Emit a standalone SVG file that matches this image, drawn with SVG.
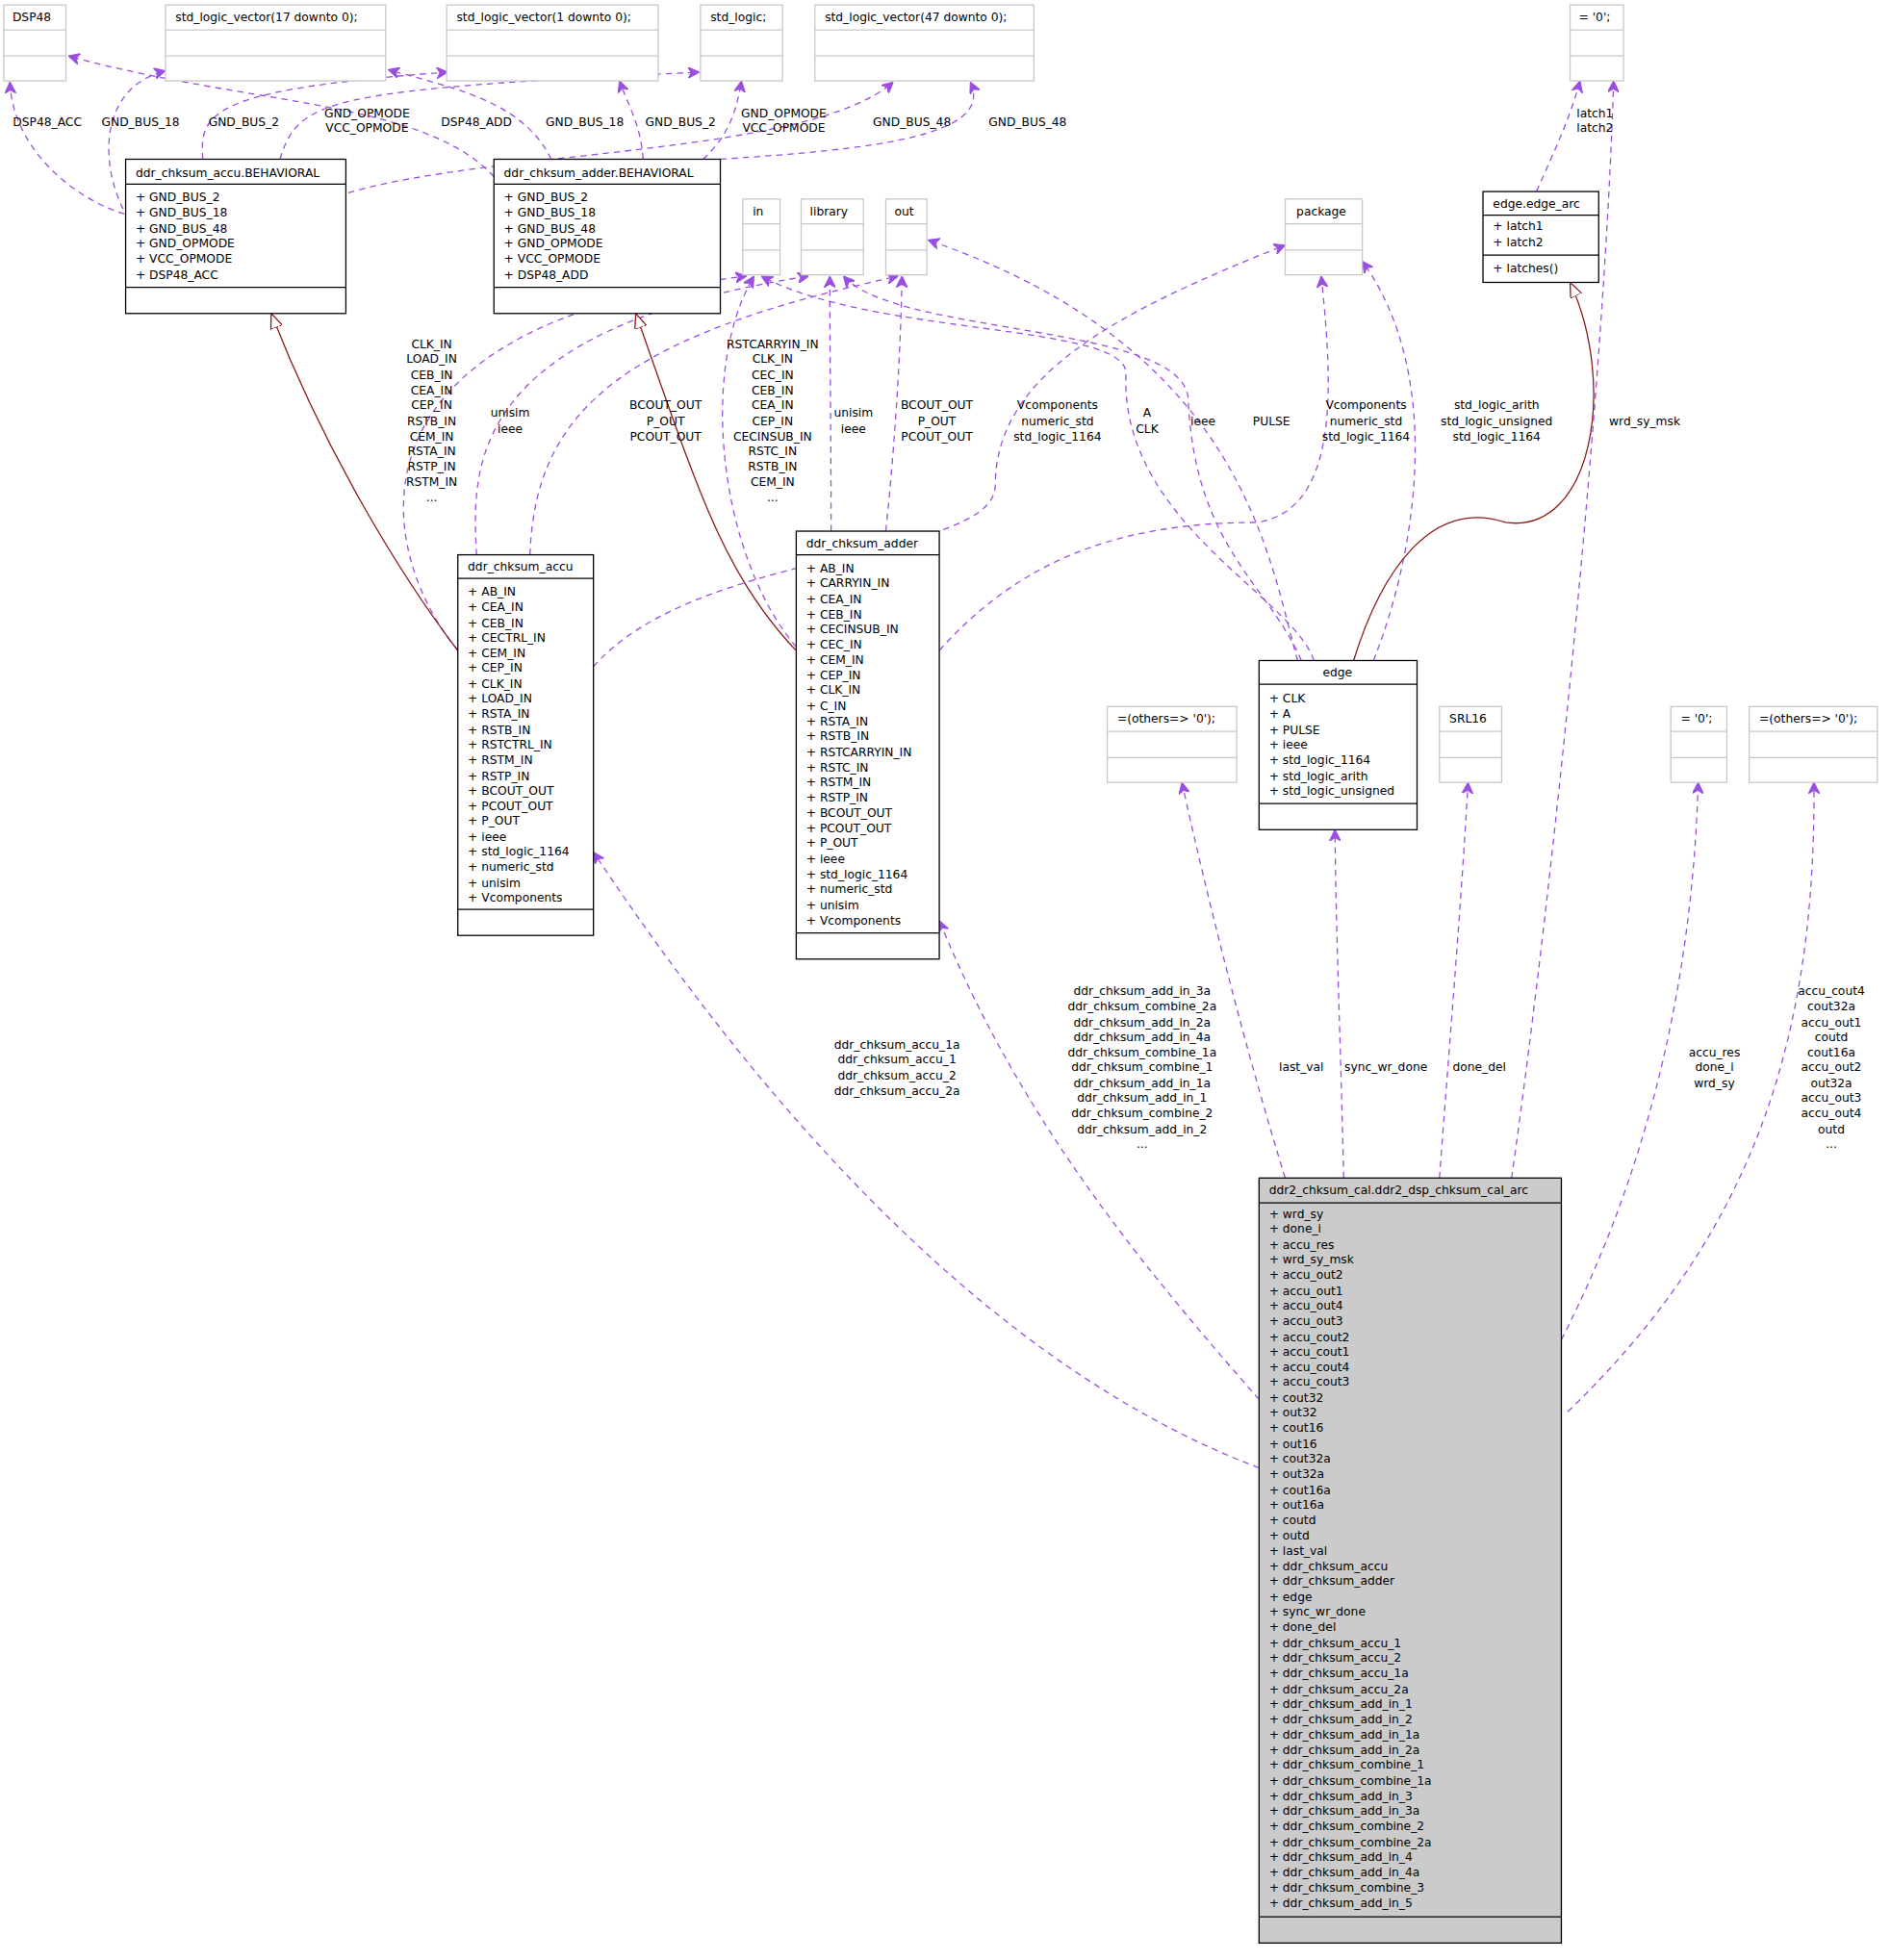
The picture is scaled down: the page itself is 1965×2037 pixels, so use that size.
<svg xmlns="http://www.w3.org/2000/svg" width="1965" height="2037" viewBox="0 0 1965 2037">
<defs>
<style>
text{font-family:"DejaVu Sans","Liberation Sans",sans-serif;font-size:9.5px;fill:#000}
.g rect{fill:#fff;stroke:#c8c8c8;stroke-width:1}
.g line{stroke:#c8c8c8;stroke-width:1}
.b rect{fill:#fff;stroke:#000;stroke-width:1}
.b line{stroke:#000;stroke-width:1}
.e path{fill:none;stroke:#9a4fe0;stroke-width:1;stroke-dasharray:5,4;marker-end:url(#a)}
.e path.r{stroke:#8b1a1a;stroke-dasharray:none;marker-end:url(#t)}
.l text{text-anchor:middle}
</style>
<marker id="a" viewBox="0 0 10 10" refX="10" refY="5" markerWidth="9" markerHeight="9" orient="auto" markerUnits="userSpaceOnUse"><path d="M0,0 L10,5 L0,10 L3,5 z" fill="#9a4fe0" stroke="#9a4fe0"/></marker>
<marker id="t" viewBox="0 0 12 10" refX="12" refY="5" markerWidth="12" markerHeight="10" orient="auto" markerUnits="userSpaceOnUse"><path d="M0,0 L12,5 L0,10 z" fill="#fff" stroke="#8b1a1a"/></marker>
</defs>
<rect width="1965" height="2037" fill="#fff"/>
<g transform="scale(1.2928)">
<g id="connectors" class="e">
<path d="M100,172 C60,160 10,120 8,66"/>
<path d="M99,168 C80,130 80,70 133,57"/>
<path d="M163,128 C160,90 170,72 360,58"/>
<path d="M225,128 C240,80 260,72 562,58"/>
<path d="M280,155 C400,120 650,125 718,66"/>
<path d="M397,142 C340,80 200,85 55,45"/>
<path d="M443,128 C420,80 360,70 312,56"/>
<path d="M517,128 C515,100 505,85 498,65"/>
<path d="M565,128 C585,110 592,90 596,65"/>
<path d="M579,128 C700,120 800,110 780,66"/>
<path d="M1235,154 C1250,120 1262,95 1270,65"/>
<path d="M1215,947 C1250,700 1290,300 1297,65"/>
<path d="M368,523 C300,440 270,260 600,222"/>
<path d="M383,446 C380,380 370,265 650,222"/>
<path d="M426,446 C430,330 500,270 722,222"/>
<path d="M477,536 C560,440 800,450 800,390 C800,300 900,250 1033,197"/>
<path d="M640,520 C580,450 560,300 606,222"/>
<path d="M668,427 C668,350 667,280 667,222"/>
<path d="M712,427 C720,350 724,280 725,222"/>
<path d="M755,523 C820,450 900,420 1010,420 C1080,410 1070,300 1062,222"/>
<path d="M1056,531 C1040,480 900,420 905,300 C905,260 700,270 612,222"/>
<path d="M1046,531 C1020,470 960,440 955,320 C950,260 720,270 678,222"/>
<path d="M1043,531 C1020,450 1000,280 746,193"/>
<path d="M1104,531 C1140,440 1160,300 1095,210"/>
<path class="r" d="M1088,531 C1110,460 1150,400 1210,420 C1280,430 1300,310 1262,227"/>
<path class="r" d="M368,523 C320,460 260,360 218,252"/>
<path class="r" d="M640,523 C580,460 560,390 511,252"/>
<path d="M1012,1180 C800,1100 620,900 477,685"/>
<path d="M1012,1125 C920,1020 820,900 755,740"/>
<path d="M1033,947 C1000,840 970,720 950,629"/>
<path d="M1080,947 C1078,850 1074,760 1073,667"/>
<path d="M1157,947 C1165,840 1175,720 1180,629"/>
<path d="M1255,1077 C1320,950 1360,800 1365,629"/>
<path d="M1260,1135 C1400,1000 1460,850 1458,629"/>
</g>
<g class="l">
<text x="38" y="101">DSP48_ACC</text>
<text x="113" y="101">GND_BUS_18</text>
<text x="196" y="101">GND_BUS_2</text>
<text x="295" y="94">GND_OPMODE</text><text x="295" y="106">VCC_OPMODE</text>
<text x="383" y="101">DSP48_ADD</text>
<text x="470" y="101">GND_BUS_18</text>
<text x="547" y="101">GND_BUS_2</text>
<text x="630" y="94">GND_OPMODE</text><text x="630" y="106">VCC_OPMODE</text>
<text x="733" y="101">GND_BUS_48</text>
<text x="826" y="101">GND_BUS_48</text>
<text x="1282" y="94">latch1</text><text x="1282" y="106">latch2</text>
<text x="347" y="280">CLK_IN</text><text x="347" y="292">LOAD_IN</text><text x="347" y="305">CEB_IN</text><text x="347" y="317">CEA_IN</text><text x="347" y="329">CEP_IN</text><text x="347" y="342">RSTB_IN</text><text x="347" y="354">CEM_IN</text><text x="347" y="366">RSTA_IN</text><text x="347" y="378">RSTP_IN</text><text x="347" y="391">RSTM_IN</text><text x="347" y="403">...</text>
<text x="621" y="280">RSTCARRYIN_IN</text><text x="621" y="292">CLK_IN</text><text x="621" y="305">CEC_IN</text><text x="621" y="317">CEB_IN</text><text x="621" y="329">CEA_IN</text><text x="621" y="342">CEP_IN</text><text x="621" y="354">CECINSUB_IN</text><text x="621" y="366">RSTC_IN</text><text x="621" y="378">RSTB_IN</text><text x="621" y="391">CEM_IN</text><text x="621" y="403">...</text>
<text x="410" y="335">unisim</text><text x="410" y="348">ieee</text>
<text x="686" y="335">unisim</text><text x="686" y="348">ieee</text>
<text x="535" y="329">BCOUT_OUT</text><text x="535" y="342">P_OUT</text><text x="535" y="354">PCOUT_OUT</text>
<text x="753" y="329">BCOUT_OUT</text><text x="753" y="342">P_OUT</text><text x="753" y="354">PCOUT_OUT</text>
<text x="850" y="329">Vcomponents</text><text x="850" y="342">numeric_std</text><text x="850" y="354">std_logic_1164</text>
<text x="1098" y="329">Vcomponents</text><text x="1098" y="342">numeric_std</text><text x="1098" y="354">std_logic_1164</text>
<text x="922" y="335">A</text><text x="922" y="348">CLK</text>
<text x="967" y="342">ieee</text>
<text x="1022" y="342">PULSE</text>
<text x="1203" y="329">std_logic_arith</text><text x="1203" y="342">std_logic_unsigned</text><text x="1203" y="354">std_logic_1164</text>
<text x="1322" y="342">wrd_sy_msk</text>
<text x="721" y="843">ddr_chksum_accu_1a</text><text x="721" y="855">ddr_chksum_accu_1</text><text x="721" y="868">ddr_chksum_accu_2</text><text x="721" y="880">ddr_chksum_accu_2a</text>
<text x="918" y="800">ddr_chksum_add_in_3a</text><text x="918" y="812">ddr_chksum_combine_2a</text><text x="918" y="825">ddr_chksum_add_in_2a</text><text x="918" y="837">ddr_chksum_add_in_4a</text><text x="918" y="849">ddr_chksum_combine_1a</text><text x="918" y="861">ddr_chksum_combine_1</text><text x="918" y="874">ddr_chksum_add_in_1a</text><text x="918" y="886">ddr_chksum_add_in_1</text><text x="918" y="898">ddr_chksum_combine_2</text><text x="918" y="911">ddr_chksum_add_in_2</text><text x="918" y="923">...</text>
<text x="1046" y="861">last_val</text>
<text x="1114" y="861">sync_wr_done</text>
<text x="1189" y="861">done_del</text>
<text x="1378" y="849">accu_res</text><text x="1378" y="861">done_i</text><text x="1378" y="874">wrd_sy</text>
<text x="1472" y="800">accu_cout4</text><text x="1472" y="812">cout32a</text><text x="1472" y="825">accu_out1</text><text x="1472" y="837">coutd</text><text x="1472" y="849">cout16a</text><text x="1472" y="861">accu_out2</text><text x="1472" y="874">out32a</text><text x="1472" y="886">accu_out3</text><text x="1472" y="898">accu_out4</text><text x="1472" y="911">outd</text><text x="1472" y="923">...</text>
</g>
<g id="n_dsp48" class="g"><rect x="3" y="4" width="50" height="61"/><line x1="3" y1="24" x2="53" y2="24"/><line x1="3" y1="45" x2="53" y2="45"/><text x="10" y="17">DSP48</text></g>
<g id="n_slv17" class="g"><rect x="133" y="4" width="177" height="61"/><line x1="133" y1="24" x2="310" y2="24"/><line x1="133" y1="45" x2="310" y2="45"/><text x="141" y="17">std_logic_vector(17 downto 0);</text></g>
<g id="n_slv1" class="g"><rect x="359" y="4" width="170" height="61"/><line x1="359" y1="24" x2="529" y2="24"/><line x1="359" y1="45" x2="529" y2="45"/><text x="367" y="17">std_logic_vector(1 downto 0);</text></g>
<g id="n_sl" class="g"><rect x="563" y="4" width="66" height="61"/><line x1="563" y1="24" x2="629" y2="24"/><line x1="563" y1="45" x2="629" y2="45"/><text x="571" y="17">std_logic;</text></g>
<g id="n_slv47" class="g"><rect x="655" y="4" width="176" height="61"/><line x1="655" y1="24" x2="831" y2="24"/><line x1="655" y1="45" x2="831" y2="45"/><text x="663" y="17">std_logic_vector(47 downto 0);</text></g>
<g id="n_zero1" class="g"><rect x="1262" y="4" width="43" height="61"/><line x1="1262" y1="24" x2="1305" y2="24"/><line x1="1262" y1="45" x2="1305" y2="45"/><text x="1269" y="17">= '0';</text></g>
<g id="n_in" class="g"><rect x="597" y="160" width="30" height="61"/><line x1="597" y1="180" x2="627" y2="180"/><line x1="597" y1="201" x2="627" y2="201"/><text x="605" y="173">in</text></g>
<g id="n_library" class="g"><rect x="644" y="160" width="50" height="61"/><line x1="644" y1="180" x2="694" y2="180"/><line x1="644" y1="201" x2="694" y2="201"/><text x="651" y="173">library</text></g>
<g id="n_out" class="g"><rect x="712" y="160" width="33" height="61"/><line x1="712" y1="180" x2="745" y2="180"/><line x1="712" y1="201" x2="745" y2="201"/><text x="719" y="173">out</text></g>
<g id="n_package" class="g"><rect x="1033" y="160" width="62" height="61"/><line x1="1033" y1="180" x2="1095" y2="180"/><line x1="1033" y1="201" x2="1095" y2="201"/><text x="1042" y="173">package</text></g>
<g id="n_others1" class="g"><rect x="890" y="568" width="104" height="61"/><line x1="890" y1="588" x2="994" y2="588"/><line x1="890" y1="609" x2="994" y2="609"/><text x="898" y="581">=(others=&gt; '0');</text></g>
<g id="n_srl16" class="g"><rect x="1157" y="568" width="50" height="61"/><line x1="1157" y1="588" x2="1207" y2="588"/><line x1="1157" y1="609" x2="1207" y2="609"/><text x="1165" y="581">SRL16</text></g>
<g id="n_zero2" class="g"><rect x="1343" y="568" width="45" height="61"/><line x1="1343" y1="588" x2="1388" y2="588"/><line x1="1343" y1="609" x2="1388" y2="609"/><text x="1351" y="581">= '0';</text></g>
<g id="n_others2" class="g"><rect x="1406" y="568" width="103" height="61"/><line x1="1406" y1="588" x2="1509" y2="588"/><line x1="1406" y1="609" x2="1509" y2="609"/><text x="1414" y="581">=(others=&gt; '0');</text></g>
<g id="n_accu_beh" class="b"><rect x="101" y="128" width="177" height="124"/><line x1="101" y1="148" x2="278" y2="148"/><line x1="101" y1="231" x2="278" y2="231"/>
<text x="109" y="142">ddr_chksum_accu.BEHAVIORAL</text>
<text x="109" y="162">+ GND_BUS_2</text><text x="109" y="174">+ GND_BUS_18</text><text x="109" y="187">+ GND_BUS_48</text><text x="109" y="199">+ GND_OPMODE</text><text x="109" y="211">+ VCC_OPMODE</text><text x="109" y="224">+ DSP48_ACC</text></g>
<g id="n_adder_beh" class="b"><rect x="397" y="128" width="182" height="124"/><line x1="397" y1="148" x2="579" y2="148"/><line x1="397" y1="231" x2="579" y2="231"/>
<text x="405" y="142">ddr_chksum_adder.BEHAVIORAL</text>
<text x="405" y="162">+ GND_BUS_2</text><text x="405" y="174">+ GND_BUS_18</text><text x="405" y="187">+ GND_BUS_48</text><text x="405" y="199">+ GND_OPMODE</text><text x="405" y="211">+ VCC_OPMODE</text><text x="405" y="224">+ DSP48_ADD</text></g>
<g id="n_edge_arc" class="b"><rect x="1192" y="154" width="93" height="73"/><line x1="1192" y1="173" x2="1285" y2="173"/><line x1="1192" y1="205" x2="1285" y2="205"/>
<text x="1200" y="167">edge.edge_arc</text><text x="1200" y="185">+ latch1</text><text x="1200" y="198">+ latch2</text><text x="1200" y="219">+ latches()</text></g>
<g id="n_accu" class="b"><rect x="368" y="446" width="109" height="306"/><line x1="368" y1="465" x2="477" y2="465"/><line x1="368" y1="731" x2="477" y2="731"/>
<text x="376" y="459">ddr_chksum_accu</text>
<text x="376" y="479">+ AB_IN</text><text x="376" y="491">+ CEA_IN</text><text x="376" y="504">+ CEB_IN</text><text x="376" y="516">+ CECTRL_IN</text><text x="376" y="528">+ CEM_IN</text><text x="376" y="540">+ CEP_IN</text><text x="376" y="553">+ CLK_IN</text><text x="376" y="565">+ LOAD_IN</text><text x="376" y="577">+ RSTA_IN</text><text x="376" y="590">+ RSTB_IN</text><text x="376" y="602">+ RSTCTRL_IN</text><text x="376" y="614">+ RSTM_IN</text><text x="376" y="627">+ RSTP_IN</text><text x="376" y="639">+ BCOUT_OUT</text><text x="376" y="651">+ PCOUT_OUT</text><text x="376" y="663">+ P_OUT</text><text x="376" y="676">+ ieee</text><text x="376" y="688">+ std_logic_1164</text><text x="376" y="700">+ numeric_std</text><text x="376" y="713">+ unisim</text><text x="376" y="725">+ Vcomponents</text></g>
<g id="n_adder" class="b"><rect x="640" y="427" width="115" height="344"/><line x1="640" y1="446" x2="755" y2="446"/><line x1="640" y1="750" x2="755" y2="750"/>
<text x="648" y="440">ddr_chksum_adder</text>
<text x="648" y="460">+ AB_IN</text><text x="648" y="472">+ CARRYIN_IN</text><text x="648" y="485">+ CEA_IN</text><text x="648" y="497">+ CEB_IN</text><text x="648" y="509">+ CECINSUB_IN</text><text x="648" y="521">+ CEC_IN</text><text x="648" y="534">+ CEM_IN</text><text x="648" y="546">+ CEP_IN</text><text x="648" y="558">+ CLK_IN</text><text x="648" y="571">+ C_IN</text><text x="648" y="583">+ RSTA_IN</text><text x="648" y="595">+ RSTB_IN</text><text x="648" y="608">+ RSTCARRYIN_IN</text><text x="648" y="620">+ RSTC_IN</text><text x="648" y="632">+ RSTM_IN</text><text x="648" y="644">+ RSTP_IN</text><text x="648" y="657">+ BCOUT_OUT</text><text x="648" y="669">+ PCOUT_OUT</text><text x="648" y="681">+ P_OUT</text><text x="648" y="694">+ ieee</text><text x="648" y="706">+ std_logic_1164</text><text x="648" y="718">+ numeric_std</text><text x="648" y="731">+ unisim</text><text x="648" y="743">+ Vcomponents</text></g>
<g id="n_edge" class="b"><rect x="1012" y="531" width="127" height="136"/><line x1="1012" y1="550" x2="1139" y2="550"/><line x1="1012" y1="646" x2="1139" y2="646"/>
<text x="1075" y="544" text-anchor="middle">edge</text>
<text x="1020" y="565">+ CLK</text><text x="1020" y="577">+ A</text><text x="1020" y="590">+ PULSE</text><text x="1020" y="602">+ ieee</text><text x="1020" y="614">+ std_logic_1164</text><text x="1020" y="627">+ std_logic_arith</text><text x="1020" y="639">+ std_logic_unsigned</text></g>
<g id="n_main" class="b"><rect x="1012" y="947" width="243" height="615" style="fill:#cbcbcb"/><line x1="1012" y1="967" x2="1255" y2="967"/><line x1="1012" y1="1541" x2="1255" y2="1541"/>
<text x="1020" y="960">ddr2_chksum_cal.ddr2_dsp_chksum_cal_arc</text>
<text x="1020" y="979">+ wrd_sy</text><text x="1020" y="991">+ done_i</text><text x="1020" y="1004">+ accu_res</text><text x="1020" y="1016">+ wrd_sy_msk</text><text x="1020" y="1028">+ accu_out2</text><text x="1020" y="1041">+ accu_out1</text><text x="1020" y="1053">+ accu_out4</text><text x="1020" y="1065">+ accu_out3</text><text x="1020" y="1078">+ accu_cout2</text><text x="1020" y="1090">+ accu_cout1</text><text x="1020" y="1102">+ accu_cout4</text><text x="1020" y="1114">+ accu_cout3</text><text x="1020" y="1127">+ cout32</text><text x="1020" y="1139">+ out32</text><text x="1020" y="1151">+ cout16</text><text x="1020" y="1164">+ out16</text><text x="1020" y="1176">+ cout32a</text><text x="1020" y="1188">+ out32a</text><text x="1020" y="1201">+ cout16a</text><text x="1020" y="1213">+ out16a</text><text x="1020" y="1225">+ coutd</text><text x="1020" y="1238">+ outd</text><text x="1020" y="1250">+ last_val</text><text x="1020" y="1262">+ ddr_chksum_accu</text><text x="1020" y="1274">+ ddr_chksum_adder</text><text x="1020" y="1287">+ edge</text><text x="1020" y="1299">+ sync_wr_done</text><text x="1020" y="1311">+ done_del</text><text x="1020" y="1324">+ ddr_chksum_accu_1</text><text x="1020" y="1336">+ ddr_chksum_accu_2</text><text x="1020" y="1348">+ ddr_chksum_accu_1a</text><text x="1020" y="1361">+ ddr_chksum_accu_2a</text><text x="1020" y="1373">+ ddr_chksum_add_in_1</text><text x="1020" y="1385">+ ddr_chksum_add_in_2</text><text x="1020" y="1398">+ ddr_chksum_add_in_1a</text><text x="1020" y="1410">+ ddr_chksum_add_in_2a</text><text x="1020" y="1422">+ ddr_chksum_combine_1</text><text x="1020" y="1435">+ ddr_chksum_combine_1a</text><text x="1020" y="1447">+ ddr_chksum_add_in_3</text><text x="1020" y="1459">+ ddr_chksum_add_in_3a</text><text x="1020" y="1471">+ ddr_chksum_combine_2</text><text x="1020" y="1484">+ ddr_chksum_combine_2a</text><text x="1020" y="1496">+ ddr_chksum_add_in_4</text><text x="1020" y="1508">+ ddr_chksum_add_in_4a</text><text x="1020" y="1521">+ ddr_chksum_combine_3</text><text x="1020" y="1533">+ ddr_chksum_add_in_5</text></g>
</g>
</svg>
